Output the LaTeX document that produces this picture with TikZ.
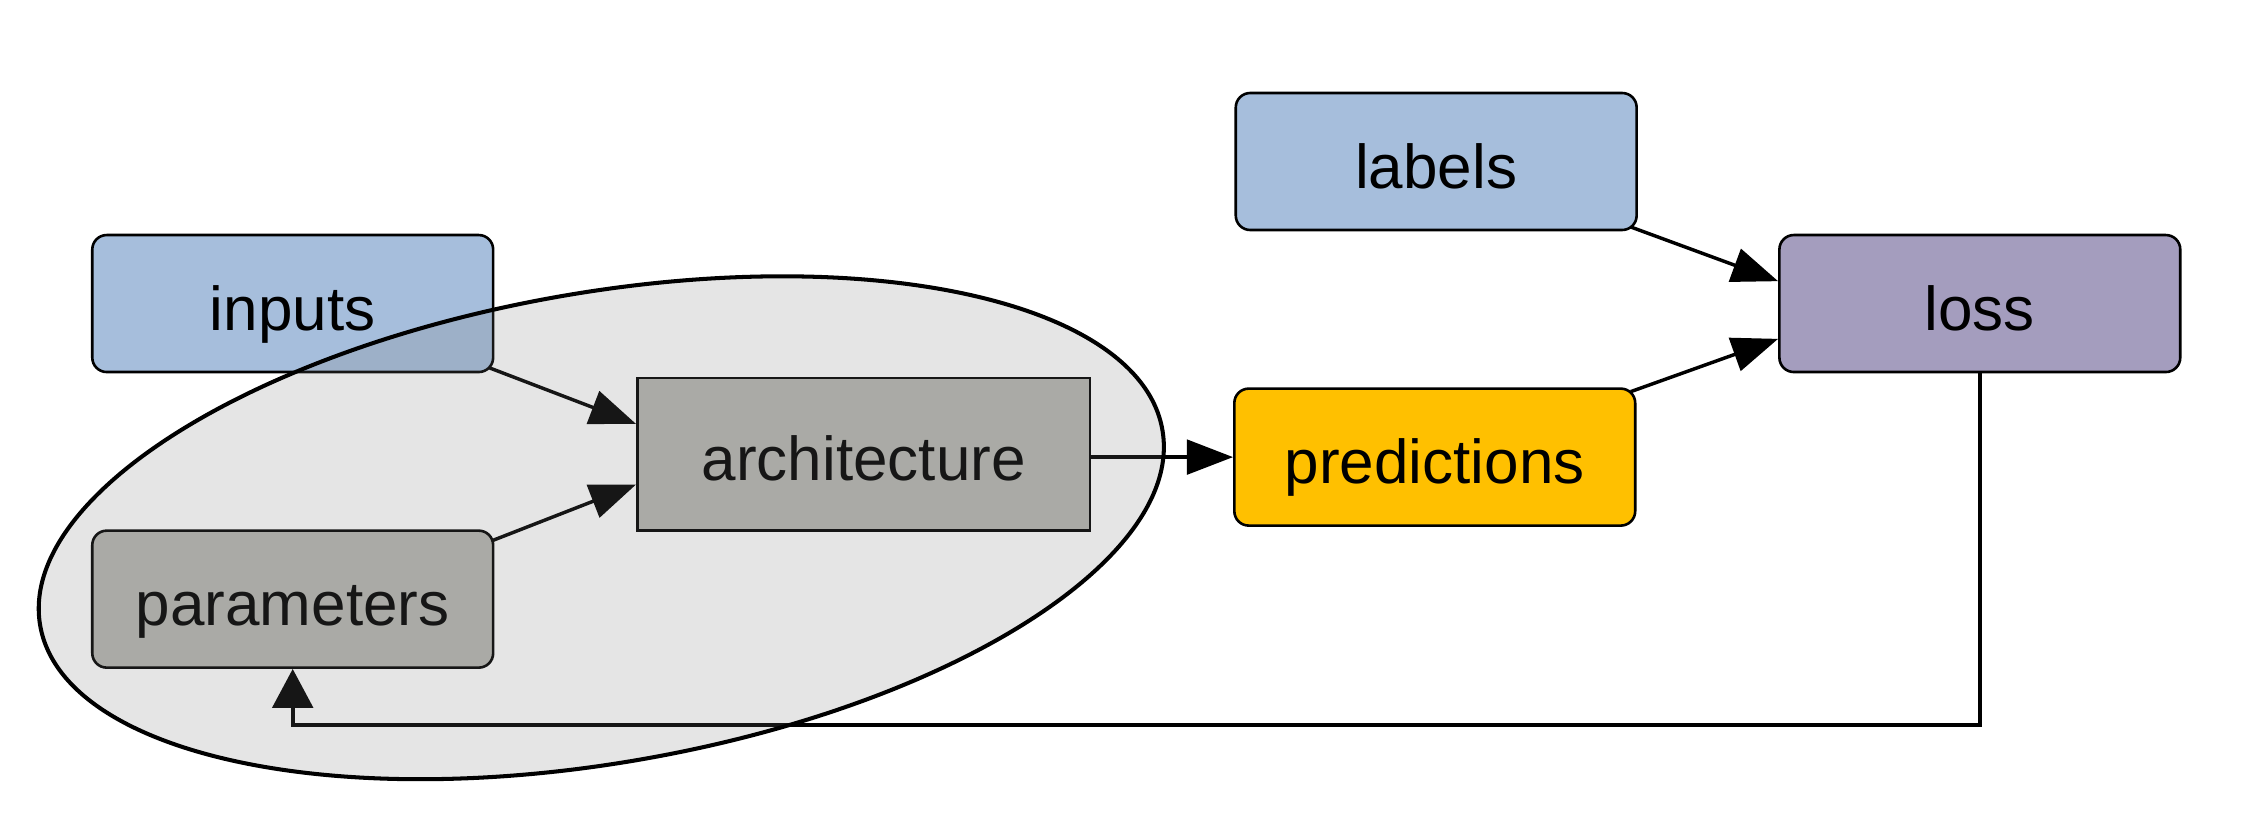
\documentclass[tikz,border=0pt]{standalone}
\usepackage{fontspec}
\setmainfont{Liberation Sans}
\usetikzlibrary{arrows.meta,calc}
\definecolor{inblue}{RGB}{166,190,220}
\definecolor{archgray}{RGB}{182,183,177}
\definecolor{predyel}{RGB}{255,192,0}
\definecolor{losspur}{RGB}{164,157,190}
\definecolor{ellgray}{RGB}{119,119,119}
\tikzset{
  box/.style={draw=black, line width=0.9pt, rounded corners=5pt, minimum width=139pt, minimum height=47.5pt, inner sep=0pt, text height=18.5pt, text depth=0pt, font=\fontsize{21.5}{25}\selectfont},
  sqbox/.style={box, rounded corners=0pt},
  conn/.style={line width=1.2pt, -{Triangle[length=16pt,width=12pt]}},
  fb/.style={line width=1.5pt, -{Triangle[length=13.5pt,width=14pt]}},
  group/.style={draw=black, line width=1.4pt, fill=ellgray, fill opacity=0.19}
}
\begin{document}
\begin{tikzpicture}[x=0.5pt,y=-0.5pt]
\useasboundingbox (0,0) rectangle (1568,573);
\node[box, fill=inblue] (inputs) at (203,210.5) {inputs};
\node[box, fill=archgray] (params) at (203,415.5) {parameters};
\node[sqbox, fill=archgray, minimum width=157pt, minimum height=53pt] (arch) at (599,315) {architecture};
\node[box, fill=inblue] (labels) at (996,112) {labels};
\node[box, fill=predyel] (pred) at (995,317) {predictions};
\node[box, fill=losspur] (loss) at (1373,210.5) {loss};
\coordinate (fbc) at (203,503);
\draw[conn] ($(inputs.south east)+(-4,-4)$) -- ($(arch.west)+(0,-21)$);
\draw[conn] ($(params.north east)+(-2,8)$) -- ($(arch.west)+(0,21)$);
\draw[conn] (arch.east |- pred.west) -- (pred.west);
\draw[conn] ($(labels.south east)+(-5,-3)$) -- ($(loss.west)+(0,-15.5)$);
\draw[conn] ($(pred.north east)+(-4,3)$) -- ($(loss.west)+(0,24.5)$);
\draw[fb] (loss.south) |- (fbc) -- (params.south);
\path[group, shift={(417,366)}, rotate=9.9] (0,0) ellipse [x radius=197.5pt, y radius=81.5pt];
\end{tikzpicture}
\end{document}
